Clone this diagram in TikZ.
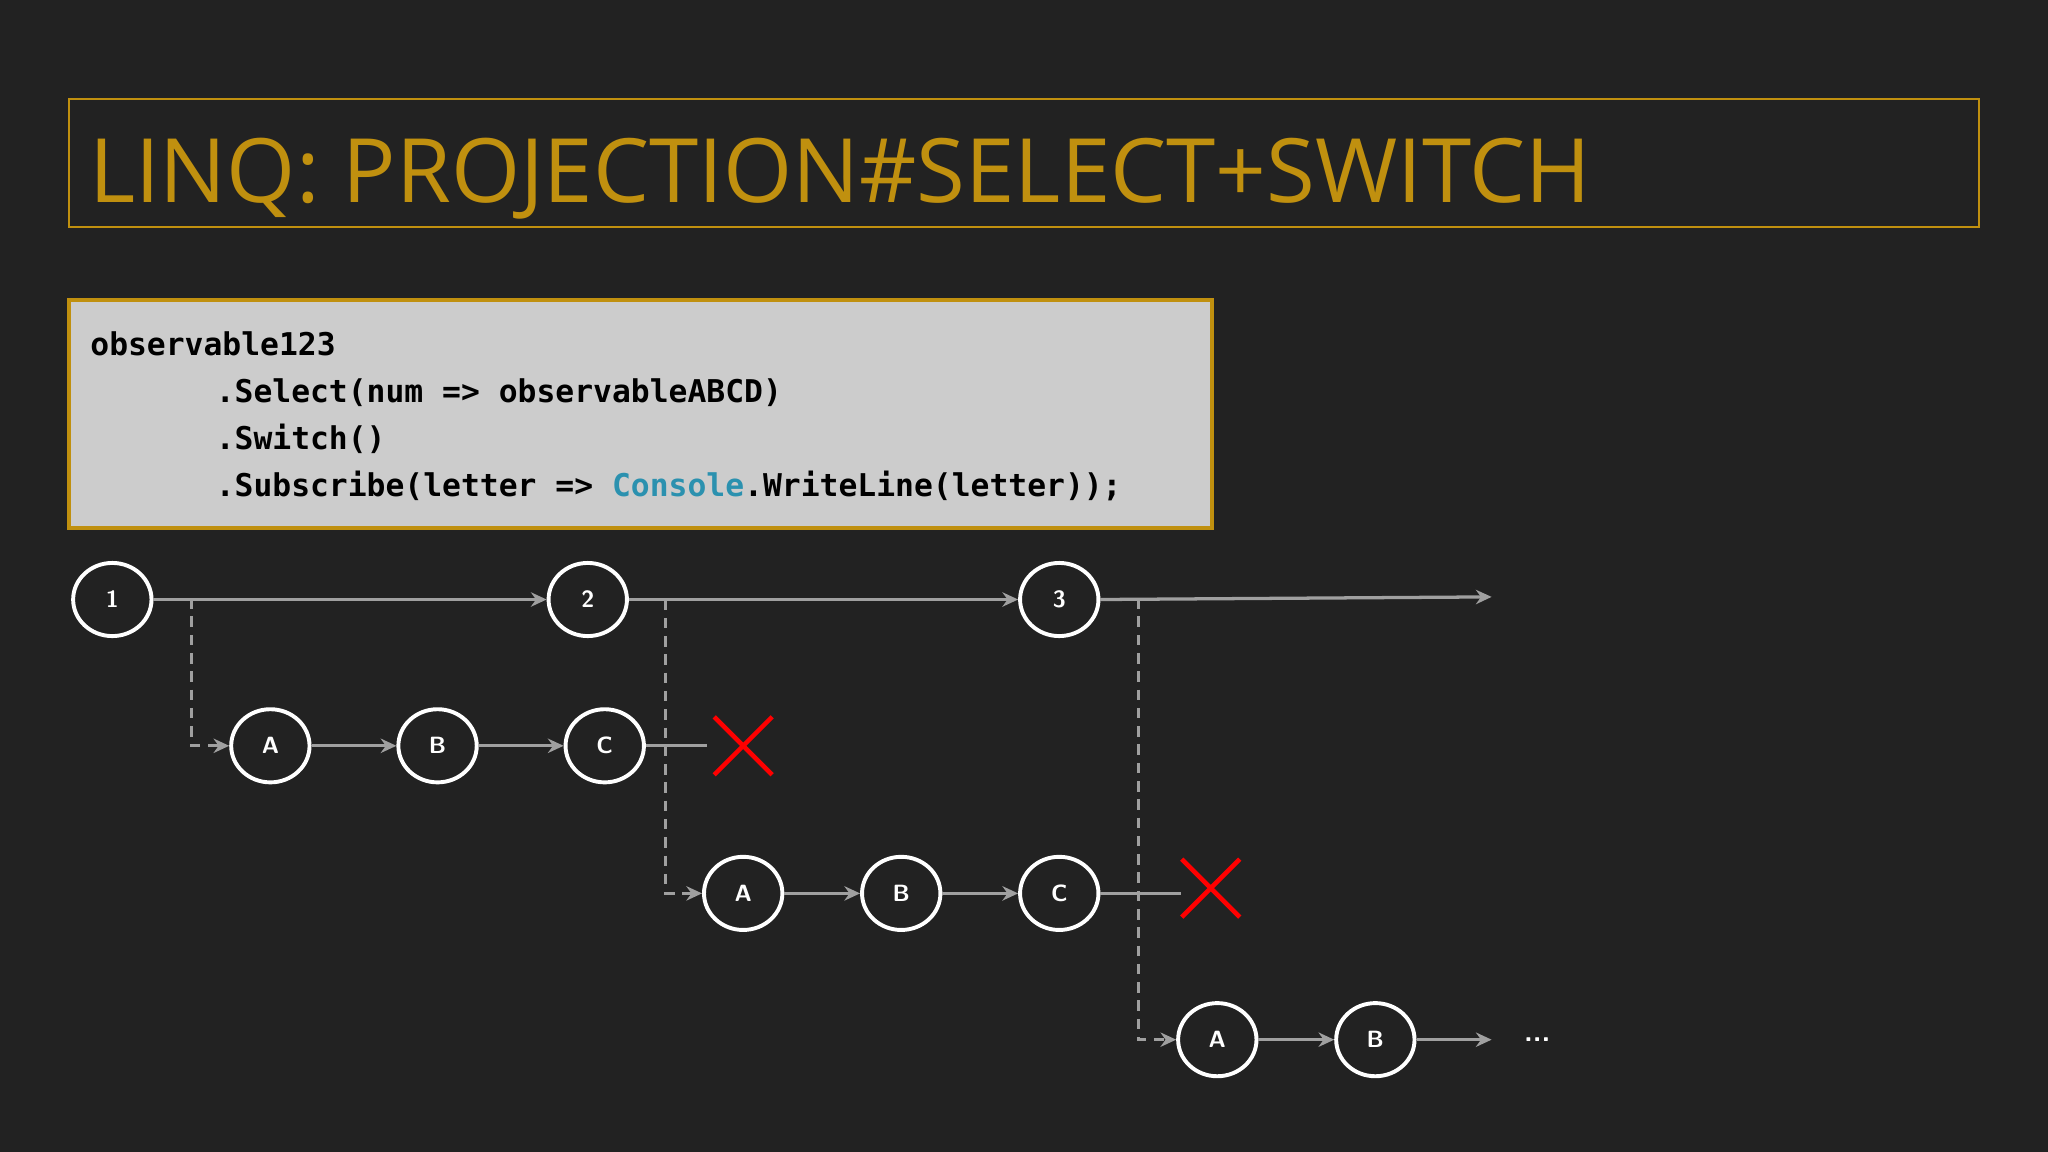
\documentclass[tikz,border=0pt]{standalone}
\usepackage{fontspec}
\setmainfont{Open Sans}
\newfontfamily\codefont{DejaVu Sans Mono}
\usetikzlibrary{arrows.meta}
\definecolor{bg}{HTML}{222222}
\definecolor{gold}{HTML}{C0900F}
\definecolor{codebg}{HTML}{CCCCCC}
\definecolor{cons}{HTML}{2B91AF}
\definecolor{ln}{HTML}{A0A0A0}
\tikzset{
 ev/.style={draw=white,line width=3pt,ellipse,minimum width=60pt,minimum height=56pt,inner sep=0pt,text=white,font=\sffamily\bfseries\fontsize{18pt}{18pt}\selectfont},
 flow/.style={draw=ln,line width=2.5pt,-{Stealth[length=12pt,width=11pt]}},
 plain/.style={draw=ln,line width=2.5pt},
 spawn/.style={draw=ln,line width=2.5pt,dash pattern=on 8pt off 6pt,-{Stealth[length=12pt,width=11pt]}},
 cross/.style={draw=red,line width=3.5pt},
 codeline/.style={anchor=base west,inner sep=0pt,font=\codefont\bfseries\fontsize{24pt}{24pt}\selectfont,text=black}
}
\usetikzlibrary{shapes.geometric}
\begin{document}
\begin{tikzpicture}[x=1pt,y=-1pt]
\fill[bg] (0,0) rectangle (1568,882);
\useasboundingbox (0,0) rectangle (1568,882);
% title
\draw[gold,line width=1.5pt] (53,76) rectangle (1515,174);
\node[anchor=base west,inner sep=0pt,text=gold,font=\fontsize{68pt}{68pt}\selectfont] (title) at (68,155) {LINQ: PROJECTION\#SELECT+SWITCH};
% code
\draw[gold,fill=codebg,line width=3pt] (53,230) rectangle (928,404);
\node[codeline] (c1) at (69,272) {observable123};
\node[codeline] (c2) at (69,308) {\hspace*{4em}.Select(num => observableABCD)};
\node[codeline] (c3) at (69,344) {\hspace*{4em}.Switch()};
\node[codeline] (c4) at (69,380) {\hspace*{4em}.Subscribe(letter => \textcolor{cons}{Console}.WriteLine(letter));};
% nodes
\node[ev] (n1) at (86,459) {1};
\node[ev] (n2) at (450,459) {2};
\node[ev] (n3) at (811,459) {3};
\coordinate (end1) at (1142,457);
\node[ev] (a1) at (207,571) {A};
\node[ev] (b1) at (335,571) {B};
\node[ev] (c1n) at (463,571) {C};
\node[ev] (a2) at (569,684) {A};
\node[ev] (b2) at (690,684) {B};
\node[ev] (c2n) at (811,684) {C};
\node[ev] (a3) at (932,796) {A};
\node[ev] (b3) at (1053,796) {B};
\node[text=white,font=\sffamily\bfseries\fontsize{22pt}{22pt}\selectfont] (dots) at (1177,796) {...};
% main line
\draw[flow] (n1) -- (n2);
\draw[flow] (n2) -- (n3);
\draw[flow] (n3.east) -- (end1);
% inner
\draw[flow] (a1) -- (b1);
\draw[flow] (b1) -- (c1n);
\draw[plain] (c1n.east) -- ++(47,0) coordinate (k1);
\draw[flow] (a2) -- (b2);
\draw[flow] (b2) -- (c2n);
\draw[plain] (c2n.east) -- ++(62,0) coordinate (k2);
\draw[flow] (a3) -- (b3);
\draw[flow] (b3.east) -- (1142,796) coordinate (end3);
% spawns
\draw[spawn] (n1.east) -| ++(29,112) -- (a1.west);
\draw[spawn] (n2.east) -| ++(28,225) -- (a2.west);
\draw[spawn] (n3.east) -| ++(29,337) -- (a3.west);
% crosses
\node[minimum size=44pt,inner sep=0pt] (x1) at (569,571) {};
\draw[cross] (x1.north west) -- (x1.south east) (x1.north east) -- (x1.south west);
\node[minimum size=44pt,inner sep=0pt] (x2) at (927,680) {};
\draw[cross] (x2.north west) -- (x2.south east) (x2.north east) -- (x2.south west);
\end{tikzpicture}
\end{document}
